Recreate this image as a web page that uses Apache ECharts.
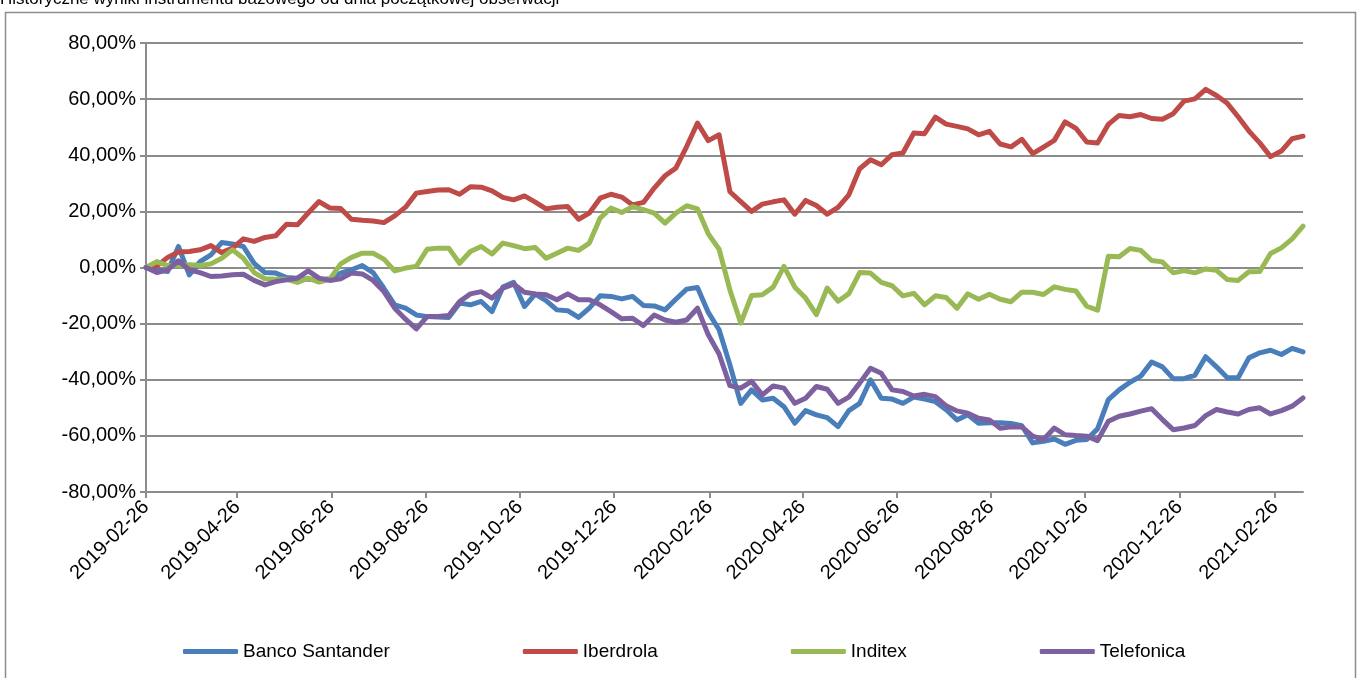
<!DOCTYPE html>
<html>
<head>
<meta charset="utf-8">
<title>Historyczne wyniki</title>
<script src="https://cdn.jsdelivr.net/npm/echarts@6/dist/echarts.min.js"></script>
<style>
    html, body { margin: 0; padding: 0; background: #fff; }
    #chart { width: 1358px; height: 678px; }
</style>
</head>
<body>
<div id="chart"></div>
<script>
// weekly observations, first one on 2019-02-26
const startDate = '2019-02-26';
const weekCount = 108;
const dayMs = 24 * 3600 * 1000;
const dates = [];
for (let i = 0; i < weekCount; i++) {
    dates.push(Date.parse(startDate) + i * 7 * dayMs);
}

const tickLabels = ['2019-02-26', '2019-04-26', '2019-06-26', '2019-08-26',
    '2019-10-26', '2019-12-26', '2020-02-26', '2020-04-26', '2020-06-26',
    '2020-08-26', '2020-10-26', '2020-12-26', '2021-02-26'];

const seriesNames = ['Banco Santander', 'Iberdrola', 'Inditex', 'Telefonica'];

const santander = [
    0, -0.8, -1.4, 7.5, -2.6, 2.1, 4.5, 8.9, 8.4, 7.5,
    1.5, -1.8, -2.0, -3.6, -3.8, -4.2, -4.4, -4.0, -2.0, -0.8,
    0.7, -1.8, -7.4, -13.3, -14.5, -16.9, -17.5, -17.6, -17.8, -12.7,
    -13.3, -12.1, -15.7, -7.0, -5.3, -13.9, -9.5, -11.8, -15.1, -15.4,
    -17.8, -14.5, -10.1, -10.3, -11.2, -10.3, -13.5, -13.7, -15.1, -11.3,
    -7.7, -7.1, -16.0, -22.2, -34.7, -48.4, -43.6, -47.2, -46.6, -49.6,
    -55.5, -51.0, -52.5, -53.5, -56.7, -51.0, -48.4, -40.0, -46.6, -46.9,
    -48.4, -46.2, -46.9, -47.8, -50.7, -54.3, -52.5, -55.5, -55.3, -55.3,
    -55.6, -56.4, -62.5, -61.9, -61.1, -63.0, -61.6, -61.3, -57.5, -47.1,
    -43.6, -40.9, -38.7, -33.7, -35.4, -39.6, -39.6, -38.4, -31.8, -35.4,
    -39.3, -39.3, -32.2, -30.4, -29.5, -31.0, -28.8, -30.1
];
const iberdrola = [
    0, 0.5, 3.6, 5.5, 5.7, 6.3, 7.8, 5.3, 6.9, 10.2,
    9.3, 10.7, 11.3, 15.4, 15.2, 19.4, 23.5, 21.2, 21.0, 17.2,
    16.8, 16.6, 16.0, 18.4, 21.5, 26.5, 27.1, 27.6, 27.7, 26.1,
    28.8, 28.6, 27.3, 25.0, 24.1, 25.5, 23.3, 20.9, 21.5, 21.7,
    17.2, 19.4, 24.7, 26.1, 25.1, 22.3, 23.2, 28.3, 32.7, 35.4,
    43.1, 51.5, 45.2, 47.3, 27.0, 23.5, 20.0, 22.6, 23.4, 24.1,
    19.0, 23.9, 22.1, 19.0, 21.4, 25.9, 35.2, 38.4, 36.6, 40.2,
    40.8, 47.9, 47.7, 53.6, 51.1, 50.3, 49.4, 47.3, 48.5, 44.0,
    43.0, 45.7, 40.6, 42.9, 45.3, 51.9, 49.6, 44.7, 44.4, 51.0,
    54.2, 53.7, 54.5, 53.1, 52.8, 54.8, 59.3, 60.1, 63.5, 61.3,
    58.5, 53.7, 48.6, 44.4, 39.5, 41.5, 45.9, 46.8
];
const inditex = [
    0, 2.1, 0.7, 0.7, 1.0, 0.7, 1.3, 3.3, 6.3, 3.3,
    -1.8, -4.0, -4.2, -4.2, -5.3, -3.8, -5.2, -4.2, 1.3, 3.6,
    5.1, 5.1, 3.0, -1.2, -0.2, 0.4, 6.5, 6.9, 6.9, 1.5,
    5.7, 7.5, 4.8, 8.7, 7.8, 6.7, 7.1, 3.3, 5.1, 6.9,
    6.1, 8.7, 17.6, 21.2, 19.6, 21.7, 20.6, 19.4, 15.8, 19.4,
    22.0, 20.9, 12.0, 6.5, -8.0, -19.8, -10.0, -9.7, -7.0, 0.4,
    -7.0, -10.9, -16.8, -7.3, -12.0, -9.3, -1.8, -2.0, -5.3, -6.5,
    -10.1, -9.2, -13.3, -10.1, -10.7, -14.5, -9.4, -11.3, -9.5, -11.3,
    -12.2, -8.8, -8.8, -9.6, -6.9, -7.8, -8.4, -13.8, -15.2, 4.0,
    3.8, 6.8, 6.1, 2.5, 2.0, -1.9, -1.1, -1.9, -0.5, -1.0,
    -4.3, -4.6, -1.5, -1.4, 5.0, 7.0, 10.2, 14.7
];
const telefonica = [
    0, -1.8, -0.8, 2.4, -0.8, -1.8, -3.2, -3.0, -2.6, -2.4,
    -4.6, -6.2, -5.0, -4.4, -3.8, -1.2, -3.8, -4.6, -4.0, -2.0,
    -2.3, -4.6, -8.6, -14.5, -18.4, -21.9, -17.5, -17.5, -17.1, -12.1,
    -9.4, -8.6, -10.9, -7.4, -5.9, -8.8, -9.4, -9.7, -11.5, -9.4,
    -11.5, -11.5, -13.3, -15.7, -18.3, -18.1, -20.7, -16.9, -18.7, -19.5,
    -18.7, -14.5, -24.0, -30.8, -42.1, -43.0, -40.6, -45.4, -42.2, -43.0,
    -48.4, -46.6, -42.4, -43.4, -48.4, -46.2, -41.2, -35.9, -37.7, -43.6,
    -44.2, -45.8, -45.2, -46.0, -49.3, -51.1, -51.9, -53.7, -54.3, -57.3,
    -56.8, -56.8, -60.1, -61.3, -57.2, -59.6, -59.9, -60.1, -61.7, -54.8,
    -53.0, -52.2, -51.2, -50.3, -54.2, -57.8, -57.2, -56.3, -52.8, -50.6,
    -51.5, -52.2, -50.6, -50.0, -52.2, -51.0, -49.4, -46.5
];

const colors = ['#4a7ebb', '#be4b48', '#98b954', '#7d60a0'];
const gridColor = '#8c8c8c';
const fontFamily = '"Liberation Sans", Arial, sans-serif';

function toPoints(values) {
    return values.map((v, i) => [dates[i], v]);
}

function formatDate(ts) {
    const d = new Date(ts);
    const mm = String(d.getUTCMonth() + 1).padStart(2, '0');
    const dd = String(d.getUTCDate()).padStart(2, '0');
    return `${d.getUTCFullYear()}-${mm}-${dd}`;
}

const tickValues = tickLabels.map(t => Date.parse(t));

const chart = echarts.init(document.getElementById('chart'));

chart.setOption({
    animation: false,
    color: colors,
    grid: { left: 146, right: 55, top: 43, bottom: 186, containLabel: false },
    graphic: [
        {
            type: 'rect',
            shape: { x: 5.5, y: 12.5, width: 1350, height: 700 },
            style: { fill: 'none', stroke: '#8c8c8c', lineWidth: 1.5 },
            silent: true,
        },
        {
            type: 'text',
            left: 0,
            top: -9,
            style: {
                text: 'Historyczne wyniki instrumentu bazowego od dnia początkowej obserwacji',
                font: '17px "Liberation Sans Narrow", "Liberation Sans", sans-serif',
                fill: '#000',
            },
            silent: true,
        },
    ],
    legend: {
        data: seriesNames,
        left: 178,
        top: 637,
        itemGap: 133,
        itemWidth: 55,
        itemHeight: 5,
        icon: 'roundRect',
        textStyle: { fontFamily: fontFamily, fontSize: 19, color: '#000' },
    },
    xAxis: {
        type: 'value',
        min: dates[0],
        max: dates[dates.length - 1],
        axisLine: { show: true, onZero: false, lineStyle: { color: gridColor, width: 2 } },
        axisTick: {
            show: true, customValues: tickValues, length: 6,
            lineStyle: { color: gridColor, width: 2 },
        },
        axisLabel: {
            customValues: tickValues,
            rotate: 45,
            margin: 12,
            fontFamily: fontFamily,
            fontSize: 20,
            color: '#000',
            formatter: v => formatDate(v),
        },
        splitLine: { show: false },
    },
    yAxis: {
        type: 'value',
        min: -80,
        max: 80,
        interval: 20,
        axisLine: { show: true, onZero: false, lineStyle: { color: gridColor, width: 2 } },
        axisTick: { show: true, length: 6, lineStyle: { color: gridColor, width: 2 } },
        axisLabel: {
            margin: 10,
            fontFamily: fontFamily,
            fontSize: 20,
            color: '#000',
            formatter: v => v.toFixed(2).replace('.', ',') + '%',
        },
        splitLine: { show: true, lineStyle: { color: gridColor, width: 2 } },
    },
    series: [santander, iberdrola, inditex, telefonica].map((vals, k) => ({
        name: seriesNames[k],
        type: 'line',
        data: toPoints(vals),
        showSymbol: false,
        symbol: 'none',
        lineStyle: { width: 5, cap: 'round', join: 'round' },
    })),
});
</script>
</body>
</html>
